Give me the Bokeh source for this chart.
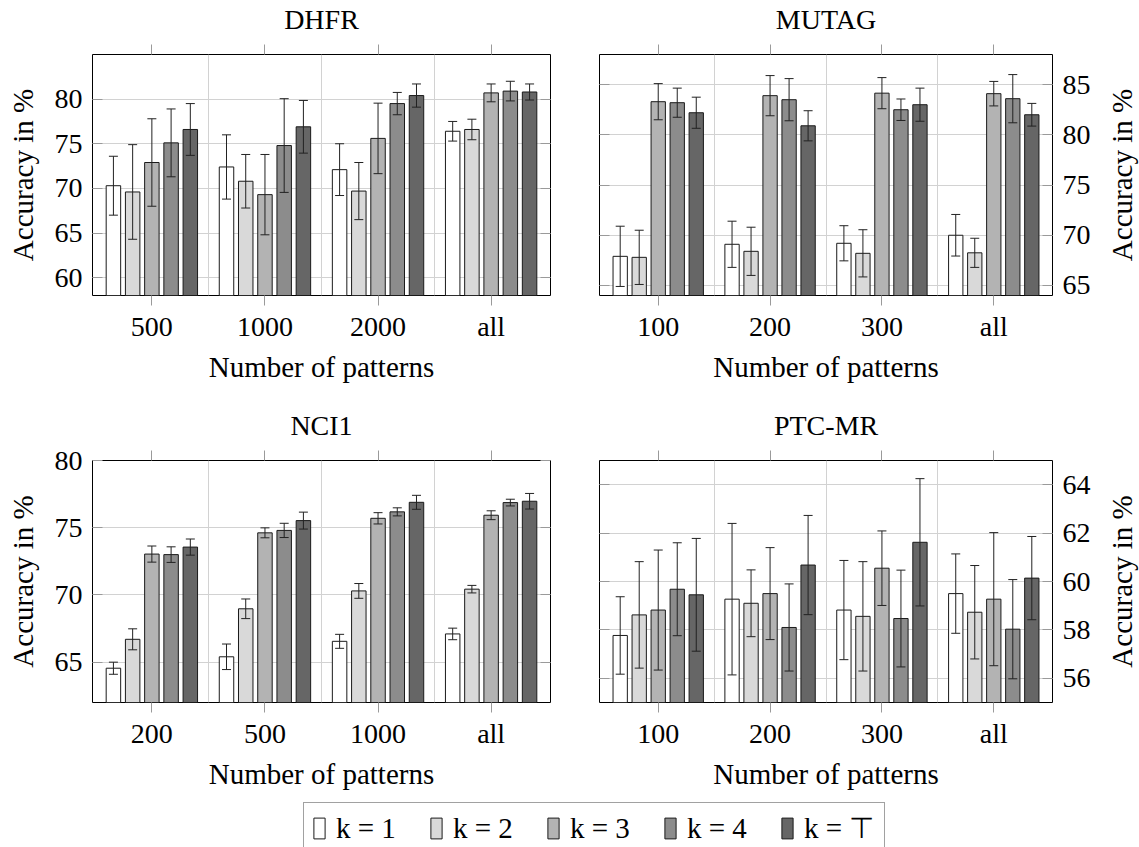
import math
from bokeh.plotting import figure
from bokeh.models import (ColumnDataSource, Whisker, TeeHead, FixedTicker, LinearAxis,
                          Grid, Range1d, Legend, LegendItem)
from bokeh.layouts import column, row
from bokeh.embed import file_html
from bokeh.resources import INLINE

# ---------------- data ----------------
series_labels = ["k = 1", "k = 2", "k = 3", "k = 4", "k = \u22a4"]
series_colors = ["#ffffff", "#d9d9d9", "#b3b3b3", "#8c8c8c", "#666666"]

# DHFR
dhfr_patterns = ["500", "1000", "2000", "all"]
dhfr_k1 = [70.3, 72.4, 72.1, 76.4]
dhfr_k1_err = [3.3, 3.6, 2.9, 1.1]
dhfr_k2 = [69.6, 70.8, 69.7, 76.6]
dhfr_k2_err = [5.3, 3.0, 3.2, 1.15]
dhfr_k3 = [72.9, 69.3, 75.6, 80.7]
dhfr_k3_err = [4.9, 4.5, 3.95, 1.0]
dhfr_k4 = [75.1, 74.8, 79.5, 80.9]
dhfr_k4_err = [3.8, 5.25, 1.25, 1.1]
dhfr_kt = [76.6, 76.9, 80.4, 80.8]
dhfr_kt_err = [2.9, 2.95, 1.3, 0.9]

# MUTAG
mutag_patterns = ["100", "200", "300", "all"]
mutag_k1 = [67.9, 69.1, 69.2, 70.0]
mutag_k1_err = [3.0, 2.3, 1.75, 2.07]
mutag_k2 = [67.8, 68.4, 68.2, 68.25]
mutag_k2_err = [2.7, 2.4, 2.35, 1.45]
mutag_k3 = [83.3, 83.9, 84.15, 84.1]
mutag_k3_err = [1.8, 2.0, 1.55, 1.22]
mutag_k4 = [83.2, 83.5, 82.5, 83.6]
mutag_k4_err = [1.45, 2.1, 1.07, 2.4]
mutag_kt = [82.2, 80.9, 83.0, 82.0]
mutag_kt_err = [1.55, 1.5, 1.65, 1.13]

# NCI1
nci1_patterns = ["200", "500", "1000", "all"]
nci1_k1 = [64.55, 65.4, 66.55, 67.1]
nci1_k1_err = [0.45, 0.95, 0.52, 0.43]
nci1_k2 = [66.7, 68.97, 70.3, 70.43]
nci1_k2_err = [0.78, 0.73, 0.55, 0.28]
nci1_k3 = [73.04, 74.62, 75.7, 75.93]
nci1_k3_err = [0.6, 0.37, 0.42, 0.33]
nci1_k4 = [73.0, 74.8, 76.18, 76.87]
nci1_k4_err = [0.58, 0.53, 0.3, 0.25]
nci1_kt = [73.56, 75.53, 76.89, 76.97]
nci1_kt_err = [0.6, 0.63, 0.52, 0.58]

# PTC-MR
ptc_patterns = ["100", "200", "300", "all"]
ptc_k1 = [57.77, 59.27, 58.82, 59.5]
ptc_k1_err = [1.6, 3.13, 2.05, 1.64]
ptc_k2 = [58.62, 59.1, 58.56, 58.73]
ptc_k2_err = [2.2, 1.38, 2.26, 1.93]
ptc_k3 = [58.82, 59.5, 60.55, 59.27]
ptc_k3_err = [2.48, 1.9, 1.54, 2.75]
ptc_k4 = [59.68, 58.1, 58.47, 58.03]
ptc_k4_err = [1.92, 1.8, 2.0, 2.05]
ptc_kt = [59.45, 60.68, 61.62, 60.14]
ptc_kt_err = [2.33, 2.05, 2.63, 1.72]

# ---------------- style ----------------
FONT = "Liberation Serif"
FS_TICK = "28px"
FS_LABEL = "29px"
FS_TITLE = "28px"
GRID = "#d2d2d2"
TICK = "#9a9a9a"
BAR_STEP = 0.17
BAR_W = 0.128
X_LABEL = "Number of patterns"
Y_LABEL = "Accuracy in %"


def style_axis(ax):
    ax.axis_line_color = None
    ax.minor_tick_line_color = None
    ax.major_tick_line_color = TICK
    ax.major_label_text_font = FONT
    ax.major_label_text_font_size = FS_TICK
    ax.major_label_text_color = "black"
    ax.axis_label_text_font = FONT
    ax.axis_label_text_font_size = FS_LABEL
    ax.axis_label_text_font_style = "normal"
    ax.axis_label_text_color = "black"


def hide_labels(ax):
    ax.major_label_text_font_size = "0px"
    ax.major_label_text_color = None
    ax.major_label_standoff = 0


def bare_figure(width, height, b_top, b_bottom, b_left, b_right, x_range, y_range):
    p = figure(width=width, height=height, output_backend="svg", toolbar_location=None,
               x_range=x_range, y_range=y_range,
               x_axis_location=None, y_axis_location=None,
               min_border_left=b_left, min_border_right=b_right,
               min_border_top=b_top, min_border_bottom=b_bottom)
    p.center = []
    p.background_fill_color = "white"
    p.border_fill_color = "white"
    return p


def make_panel(name, patterns, means, errs, y_lo, y_hi, y_ticks, label_side,
               width, height, b_top, b_bottom, b_left, b_right):
    n = len(patterns)
    slots = list(range(n))
    p = bare_figure(width, height, b_top, b_bottom, b_left, b_right,
                    Range1d(-0.525, n - 0.475), Range1d(y_lo, y_hi))
    p.outline_line_color = "black"
    p.outline_line_width = 1
    p.outline_line_alpha = 1.0

    p.add_layout(Grid(dimension=1, ticker=FixedTicker(ticks=y_ticks),
                      grid_line_color=GRID, grid_line_width=1))
    p.add_layout(Grid(dimension=0, ticker=FixedTicker(ticks=[s + 0.5 for s in slots[:-1]]),
                      grid_line_color=GRID, grid_line_width=1))

    for j in range(len(means)):
        xs = [s + (j - (len(means) - 1) / 2) * BAR_STEP for s in slots]
        src = ColumnDataSource(dict(
            x=xs, top=means[j],
            upper=[m + e for m, e in zip(means[j], errs[j])],
            lower=[m - e for m, e in zip(means[j], errs[j])]))
        p.vbar(x="x", top="top", bottom=y_lo, width=BAR_W, source=src,
               fill_color=series_colors[j], line_color="#1a1a1a", line_width=1)
        p.add_layout(Whisker(base="x", upper="upper", lower="lower", source=src,
                             level="annotation", line_color="#222222", line_width=1,
                             upper_head=TeeHead(size=9, line_color="#222222", line_width=1),
                             lower_head=TeeHead(size=9, line_color="#222222", line_width=1)))

    # bottom axis with category labels
    xb = LinearAxis(ticker=FixedTicker(ticks=slots),
                    major_label_overrides={s: lab for s, lab in zip(slots, patterns)},
                    axis_label=X_LABEL)
    style_axis(xb)
    xb.major_tick_in = 0
    xb.major_tick_out = 10
    xb.major_label_standoff = 5
    xb.axis_label_standoff = 6
    p.add_layout(xb, "below")

    # top axis: ticks only, panel name as its label
    xt = LinearAxis(ticker=FixedTicker(ticks=slots), axis_label=name)
    style_axis(xt)
    xt.axis_label_text_font_size = FS_TITLE
    xt.axis_label_text_line_height = 1.0
    xt.major_tick_in = 0
    xt.major_tick_out = 10
    xt.axis_label_standoff = 10
    hide_labels(xt)
    p.add_layout(xt, "above")

    # y axes: one with labels, one with ticks only
    for side in ("left", "right"):
        ya = LinearAxis(ticker=FixedTicker(ticks=y_ticks))
        style_axis(ya)
        ya.major_tick_in = 10
        ya.major_tick_out = 0
        if side == label_side:
            ya.major_label_standoff = 10
            if side == "left":
                ya.axis_label = Y_LABEL
                ya.axis_label_standoff = 13
        else:
            hide_labels(ya)
        p.add_layout(ya, side)
    return p


def make_side_label(width, height, b_top, b_bottom):
    # narrow strip whose left-side axis carries the right-hand y label
    f = bare_figure(width, height, b_top, b_bottom, width - 1, 0,
                    Range1d(0, 1), Range1d(0, 1))
    f.outline_line_color = None
    ax = LinearAxis(ticker=FixedTicker(ticks=[]), axis_label=Y_LABEL)
    style_axis(ax)
    ax.major_tick_line_color = None
    ax.major_tick_in = 0
    ax.major_tick_out = 0
    hide_labels(ax)
    ax.axis_label_standoff = 1
    f.add_layout(ax, "left")
    return f


W_LEFT, W_RIGHT, W_LAB = 574, 522, 43
H_TOP, H_BOT = 406, 391

dhfr = make_panel("DHFR", dhfr_patterns,
                  [dhfr_k1, dhfr_k2, dhfr_k3, dhfr_k4, dhfr_kt],
                  [dhfr_k1_err, dhfr_k2_err, dhfr_k3_err, dhfr_k4_err, dhfr_kt_err],
                  58, 85, [60, 65, 70, 75, 80], "left",
                  W_LEFT, H_TOP, 52, 111, 92, 24)
mutag = make_panel("MUTAG", mutag_patterns,
                   [mutag_k1, mutag_k2, mutag_k3, mutag_k4, mutag_kt],
                   [mutag_k1_err, mutag_k2_err, mutag_k3_err, mutag_k4_err, mutag_kt_err],
                   64, 88, [65, 70, 75, 80, 85], "right",
                   W_RIGHT, H_TOP, 52, 111, 25, 44)
nci1 = make_panel("NCI1", nci1_patterns,
                  [nci1_k1, nci1_k2, nci1_k3, nci1_k4, nci1_kt],
                  [nci1_k1_err, nci1_k2_err, nci1_k3_err, nci1_k4_err, nci1_kt_err],
                  62, 80, [65, 70, 75, 80], "left",
                  W_LEFT, H_BOT, 52, 95, 92, 24)
ptc = make_panel("PTC-MR", ptc_patterns,
                 [ptc_k1, ptc_k2, ptc_k3, ptc_k4, ptc_kt],
                 [ptc_k1_err, ptc_k2_err, ptc_k3_err, ptc_k4_err, ptc_kt_err],
                 55, 65, [56, 58, 60, 62, 64], "right",
                 W_RIGHT, H_BOT, 52, 95, 25, 44)
mutag_lab = make_side_label(W_LAB, H_TOP, 52, 111)
ptc_lab = make_side_label(W_LAB, H_BOT, 52, 95)

# legend strip (its swatch renderers sit outside the visible ranges)
lf = bare_figure(W_LEFT + W_RIGHT + W_LAB, 50, 0, 0, 0, 0, Range1d(-2, -1), Range1d(-2, -1))
lf.outline_line_color = None
items = []
for j, (lab, col) in enumerate(zip(series_labels, series_colors)):
    r = lf.vbar(x=[j], top=[dhfr_k1[0]], bottom=[dhfr_k1[0]], width=0.1,
                fill_color=col, line_color="#1a1a1a", line_width=1)
    items.append(LegendItem(label=lab, renderers=[r]))
legend = Legend(items=items, orientation="horizontal", location=(303, -7),
                glyph_width=14, glyph_height=26, label_standoff=10, label_width=72,
                spacing=21, padding=8, margin=0,
                label_text_font=FONT, label_text_font_size="29px", label_text_color="black",
                border_line_color="#444444", border_line_width=1,
                background_fill_color="white", background_fill_alpha=1.0)
lf.add_layout(legend)

layout = column(row(dhfr, mutag, mutag_lab), row(nci1, ptc, ptc_lab), lf)

with open("out.html", "w") as f:
    f.write(file_html(layout, INLINE))
